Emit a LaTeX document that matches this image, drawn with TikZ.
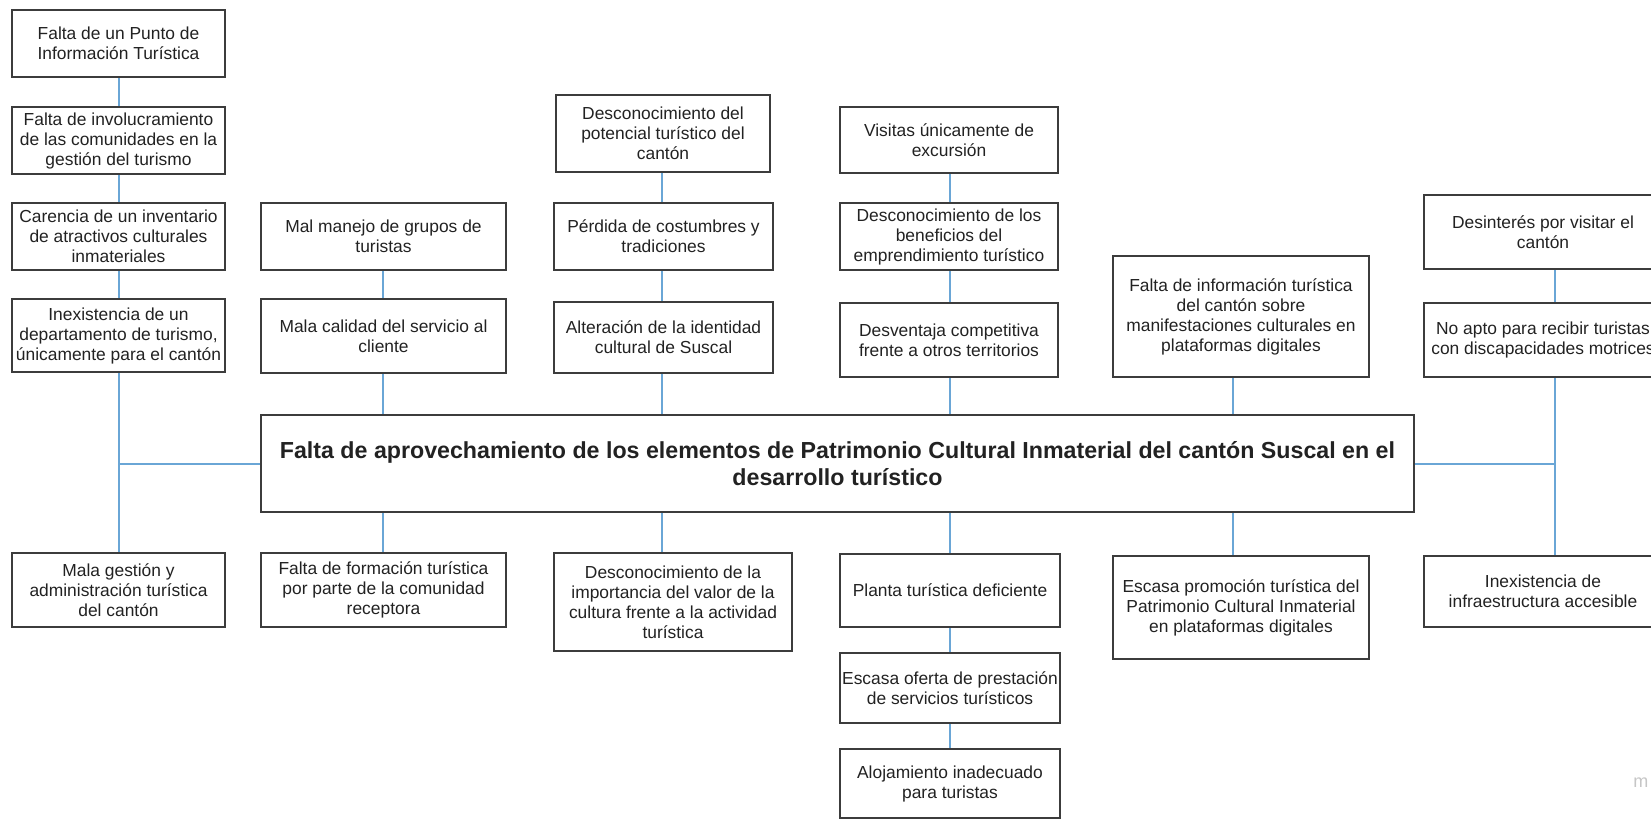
\documentclass[tikz,border=0pt]{standalone}
\usepackage{fontspec}
\setmainfont{Liberation Sans}
\definecolor{boxgray}{HTML}{3C3C3C}
\definecolor{txt}{HTML}{222222}
\definecolor{connblue}{HTML}{6AA6D6}
% box from corner (x1,y1) to (x2,y2), in pixels
\newcommand\bx[7][box]{\node[#1, minimum width={(#5-#3)*0.5pt}, minimum height={(#6-#4)*0.5pt}] (#2) at ({(#3+#5)/2},{(#4+#6)/2}) {#7};}
\begin{document}
\begin{tikzpicture}[x=0.5pt, y=-0.5pt,
  box/.style={draw=boxgray, line width=1.1pt, fill=white, inner sep=0pt, align=center, text=txt, font=\fontsize{8.7}{10}\selectfont},
  mainbox/.style={box, font=\fontsize{11.6}{13.5}\selectfont\bfseries},
  conn/.style={draw=connblue, line width=1pt},
  wmark/.style={text=gray!45, inner sep=0pt, anchor=west, font=\fontsize{9}{10}\selectfont}]
\useasboundingbox (0,0) rectangle (1651,820);
\clip (0,0) rectangle (1651,820);
\fill[white] (0,0) rectangle (1651,820);

% column x positions of connectors
\coordinate (xa) at (119,0);
\coordinate (xb) at (383,0);
\coordinate (xc) at (662,0);
\coordinate (xd) at (950,0);
\coordinate (xe) at (1233,0);
\coordinate (xf) at (1555,0);
\coordinate (jl) at (119,463.5);
\coordinate (jr) at (1555,463.5);

% central problem
\bx[mainbox]{C}{261}{415}{1414}{512}{Falta de aprovechamiento de los elementos de Patrimonio Cultural Inmaterial del cantón Suscal en el\\desarrollo turístico}

% column A
\bx{A1}{12}{10}{225}{77}{Falta de un Punto de\\Información Turística}
\bx{A2}{12}{107}{225}{174}{Falta de involucramiento\\de las comunidades en la\\gestión del turismo}
\bx{A3}{12}{203}{225}{270}{Carencia de un inventario\\de atractivos culturales\\inmateriales}
\bx{A4}{12}{299}{225}{372}{Inexistencia de un\\departamento de turismo,\\únicamente para el cantón}
\bx{L1}{12}{553}{225}{627}{Mala gestión y\\administración turística\\del cantón}

% column B
\bx{B1}{261}{203}{506}{270}{Mal manejo de grupos de\\turistas}
\bx{B2}{261}{299}{506}{373}{Mala calidad del servicio al\\cliente}
\bx{L2}{261}{553}{506}{627}{Falta de formación turística\\por parte de la comunidad\\receptora}

% column C
\bx{C1}{556}{95}{770}{172}{Desconocimiento del\\potencial turístico del\\cantón}
\bx{C2}{554}{203}{773}{270}{Pérdida de costumbres y\\tradiciones}
\bx{C3}{554}{302}{773}{373}{Alteración de la identidad\\cultural de Suscal}
\bx{L3}{554}{553}{792}{651}{Desconocimiento de la\\importancia del valor de la\\cultura frente a la actividad\\turística}

% column D
\bx{D1}{840}{107}{1058}{173}{Visitas únicamente de\\excursión}
\bx{D2}{840}{203}{1058}{270}{Desconocimiento de los\\beneficios del\\emprendimiento turístico}
\bx{D3}{840}{303}{1058}{377}{Desventaja competitiva\\frente a otros territorios}
\bx{L4}{840}{554}{1060}{627}{Planta turística deficiente}
\bx{L4b}{840}{653}{1060}{723}{Escasa oferta de prestación\\de servicios turísticos}
\bx{L4c}{840}{749}{1060}{818}{Alojamiento inadecuado\\para turistas}

% column E
\bx{E1}{1113}{256}{1369}{377}{Falta de información turística\\del cantón sobre\\manifestaciones culturales en\\plataformas digitales}
\bx{L5}{1113}{556}{1369}{659}{Escasa promoción turística del\\Patrimonio Cultural Inmaterial\\en plataformas digitales}

% column F
\bx{F1}{1424}{195}{1662}{269}{Desinterés por visitar el\\cantón}
\bx{F2}{1424}{303}{1662}{377}{No apto para recibir turistas\\con discapacidades motrices}
\bx{L6}{1424}{556}{1662}{627}{Inexistencia de\\infraestructura accesible}

% watermark fragment
\node[wmark] (wm) at (1633,783) {m};

% connectors
\draw[conn] (A1.south -| xa) -- (A2.north -| xa);
\draw[conn] (A2.south -| xa) -- (A3.north -| xa);
\draw[conn] (A3.south -| xa) -- (A4.north -| xa);
\draw[conn] (A4.south -| xa) -- (L1.north -| xa);
\draw[conn] (jl) -- (C.west);

\draw[conn] (B1.south -| xb) -- (B2.north -| xb);
\draw[conn] (B2.south -| xb) -- (C.north -| xb);
\draw[conn] (C.south -| xb) -- (L2.north -| xb);

\draw[conn] (C1.south -| xc) -- (C2.north -| xc);
\draw[conn] (C2.south -| xc) -- (C3.north -| xc);
\draw[conn] (C3.south -| xc) -- (C.north -| xc);
\draw[conn] (C.south -| xc) -- (L3.north -| xc);

\draw[conn] (D1.south -| xd) -- (D2.north -| xd);
\draw[conn] (D2.south -| xd) -- (D3.north -| xd);
\draw[conn] (D3.south -| xd) -- (C.north -| xd);
\draw[conn] (C.south -| xd) -- (L4.north -| xd);
\draw[conn] (L4.south -| xd) -- (L4b.north -| xd);
\draw[conn] (L4b.south -| xd) -- (L4c.north -| xd);

\draw[conn] (E1.south -| xe) -- (C.north -| xe);
\draw[conn] (C.south -| xe) -- (L5.north -| xe);

\draw[conn] (F1.south -| xf) -- (F2.north -| xf);
\draw[conn] (F2.south -| xf) -- (L6.north -| xf);
\draw[conn] (C.east) -- (jr);
\end{tikzpicture}
\end{document}
